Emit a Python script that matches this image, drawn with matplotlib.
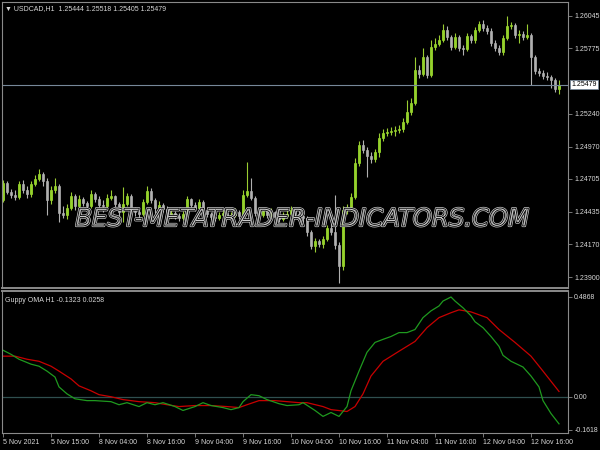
import numpy as np
import matplotlib
matplotlib.use("Agg")
import matplotlib.pyplot as plt
import matplotlib.patheffects as pe
import matplotlib.transforms as mtransforms

plt.rcParams['font.family'] = ['Liberation Sans', 'DejaVu Sans']

# USDCAD H1 candles, 5 Nov 2021 .. 12 Nov 2021
first_open = 1.24531
closes = [1.24671, 1.24597, 1.24572, 1.24556, 1.24663, 1.24613, 1.24581, 1.24663, 1.24704, 1.24745,
          1.24687, 1.24531, 1.24613, 1.24646, 1.24425, 1.24408, 1.24466, 1.24564, 1.24482, 1.24540,
          1.24507, 1.24482, 1.24581, 1.24540, 1.24490, 1.24482, 1.24548, 1.24564, 1.24499, 1.24433,
          1.24499, 1.24564, 1.24449, 1.24433, 1.24417, 1.24515, 1.24605, 1.24531, 1.24466, 1.24490,
          1.24458, 1.24417, 1.24425, 1.24400, 1.24384, 1.24417, 1.24540, 1.24490, 1.24466, 1.24515,
          1.24449, 1.24417, 1.24392, 1.24384, 1.24408, 1.24425, 1.24400, 1.24408, 1.24433, 1.24400,
          1.24572, 1.24605, 1.24548, 1.24425, 1.24408, 1.24441, 1.24408, 1.24433, 1.24392, 1.24376,
          1.24400, 1.24417, 1.24449, 1.24417, 1.24400, 1.24384, 1.24269, 1.24154, 1.24195, 1.24171,
          1.24212, 1.24302, 1.24269, 1.24162, 1.23990, 1.24449, 1.24474, 1.24556, 1.24835, 1.24983,
          1.24942, 1.24892, 1.24868, 1.24925, 1.25040, 1.25081, 1.25089, 1.25097, 1.25106, 1.25114,
          1.25171, 1.25253, 1.25327, 1.25598, 1.25565, 1.25704, 1.25557, 1.25787, 1.25811, 1.25844,
          1.25926, 1.25869, 1.25787, 1.25869, 1.25778, 1.25770, 1.25877, 1.25844, 1.25926, 1.25975,
          1.25942, 1.25918, 1.25819, 1.25778, 1.25745, 1.25860, 1.25959, 1.25967, 1.25885, 1.25893,
          1.25869, 1.25885, 1.25704, 1.25590, 1.25573, 1.25549, 1.25540, 1.25516, 1.25444, 1.25479]
highs = [1.24696, 1.24687, 1.24622, 1.24613, 1.24687, 1.24696, 1.24646, 1.24687, 1.24737, 1.24786,
         1.24761, 1.24712, 1.24646, 1.24712, 1.24663, 1.24482, 1.24499, 1.24597, 1.24581, 1.24572,
         1.24556, 1.24523, 1.24613, 1.24597, 1.24564, 1.24531, 1.24581, 1.24613, 1.24572, 1.24515,
         1.24638, 1.24589, 1.24581, 1.24474, 1.24466, 1.24540, 1.24646, 1.24630, 1.24548, 1.24523,
         1.24507, 1.24482, 1.24458, 1.24441, 1.24425, 1.24441, 1.24564, 1.24548, 1.24515, 1.24540,
         1.24531, 1.24474, 1.24433, 1.24417, 1.24433, 1.24449, 1.24441, 1.24433, 1.24466, 1.24449,
         1.24613, 1.24843, 1.24712, 1.24564, 1.24449, 1.24466, 1.24458, 1.24466, 1.24441, 1.24417,
         1.24433, 1.24449, 1.24482, 1.24466, 1.24441, 1.24425, 1.24400, 1.24285, 1.24220, 1.24212,
         1.24236, 1.24326, 1.24367, 1.24572, 1.24187, 1.24482, 1.24499, 1.24589, 1.24876, 1.25016,
         1.25024, 1.24966, 1.24925, 1.24950, 1.25081, 1.25114, 1.25122, 1.25130, 1.25139, 1.25147,
         1.25204, 1.25352, 1.25368, 1.25704, 1.25639, 1.25778, 1.25721, 1.25844, 1.25860, 1.25885,
         1.25975, 1.25959, 1.25885, 1.25901, 1.25885, 1.25803, 1.25901, 1.25893, 1.25951, 1.26000,
         1.26008, 1.25967, 1.25942, 1.25844, 1.25803, 1.25885, 1.26041, 1.25992, 1.25983, 1.25926,
         1.25918, 1.25975, 1.25901, 1.25721, 1.25614, 1.25598, 1.25581, 1.25557, 1.25532, 1.25518]
lows = [1.24515, 1.24581, 1.24548, 1.24531, 1.24540, 1.24589, 1.24548, 1.24556, 1.24646, 1.24687,
        1.24646, 1.24408, 1.24499, 1.24589, 1.24351, 1.24384, 1.24376, 1.24449, 1.24449, 1.24433,
        1.24482, 1.24449, 1.24466, 1.24515, 1.24449, 1.24433, 1.24458, 1.24531, 1.24466, 1.24400,
        1.24351, 1.24482, 1.24384, 1.24400, 1.24384, 1.24400, 1.24499, 1.24507, 1.24425, 1.24376,
        1.24433, 1.24392, 1.24384, 1.24376, 1.24359, 1.24367, 1.24400, 1.24466, 1.24441, 1.24441,
        1.24425, 1.24392, 1.24367, 1.24359, 1.24367, 1.24384, 1.24376, 1.24376, 1.24392, 1.24376,
        1.24384, 1.24556, 1.24531, 1.24400, 1.24384, 1.24392, 1.24384, 1.24392, 1.24367, 1.24351,
        1.24359, 1.24384, 1.24400, 1.24392, 1.24376, 1.24351, 1.24236, 1.24130, 1.24105, 1.24146,
        1.24138, 1.24195, 1.24244, 1.24130, 1.23851, 1.23957, 1.24417, 1.24441, 1.24540, 1.24810,
        1.24917, 1.24720, 1.24835, 1.24843, 1.24884, 1.25016, 1.25057, 1.25065, 1.25057, 1.25081,
        1.25089, 1.25155, 1.25229, 1.25311, 1.25532, 1.25549, 1.25532, 1.25540, 1.25762, 1.25795,
        1.25828, 1.25844, 1.25762, 1.25770, 1.25754, 1.25721, 1.25754, 1.25819, 1.25819, 1.25910,
        1.25918, 1.25893, 1.25795, 1.25754, 1.25721, 1.25721, 1.25844, 1.25934, 1.25860, 1.25819,
        1.25844, 1.25852, 1.25475, 1.25565, 1.25549, 1.25524, 1.25516, 1.25450, 1.25417, 1.25405]

# Guppy OMA values (bar index, value)
green_idx = [0, 2, 4, 7, 9, 11, 13, 14, 16, 18, 21, 23, 27, 29, 31, 34, 36, 38, 40, 43,
             45, 48, 50, 52, 55, 57, 59, 60, 62, 64, 66, 69, 71, 74, 75, 78, 80, 82, 84, 86,
             87, 89, 91, 93, 95, 97, 99, 101, 103, 105, 107, 109, 110, 112, 113, 115, 117, 118, 120, 122,
             124, 125, 127, 130, 132, 134, 135, 137, 139]
green_val = [0.227, 0.207, 0.183, 0.159, 0.149, 0.125, 0.096, 0.048, 0.014, -0.010,
             -0.019, -0.019, -0.024, -0.039, -0.029, -0.048, -0.029, -0.039, -0.029, -0.048,
             -0.067, -0.048, -0.029, -0.043, -0.053, -0.063, -0.053, -0.024, 0.010, 0.005,
             -0.014, -0.034, -0.043, -0.039, -0.029, -0.067, -0.096, -0.077, -0.096, -0.048,
             0.029, 0.125, 0.217, 0.265, 0.280, 0.294, 0.313, 0.313, 0.328, 0.386,
             0.419, 0.443, 0.467, 0.4868, 0.467, 0.434, 0.395, 0.366, 0.337, 0.294,
             0.246, 0.202, 0.173, 0.145, 0.101, 0.048, -0.019, -0.082, -0.1323]
red_idx = [0, 3, 6, 9, 12, 14, 17, 19, 22, 24, 27, 30, 34, 38, 41, 44, 48, 52, 56, 59,
           61, 64, 68, 71, 74, 76, 80, 82, 86, 88, 90, 92, 95, 99, 103, 106, 109, 112, 114, 117,
           121, 124, 128, 132, 135, 139]
red_val = [0.198, 0.198, 0.183, 0.173, 0.149, 0.125, 0.087, 0.053, 0.029, 0.010,
           0.000, -0.014, -0.024, -0.029, -0.039, -0.048, -0.043, -0.043, -0.048, -0.053,
           -0.039, -0.019, -0.019, -0.024, -0.029, -0.029, -0.048, -0.063, -0.072, -0.048,
           0.014, 0.101, 0.173, 0.222, 0.270, 0.337, 0.386, 0.410, 0.424, 0.414,
           0.386, 0.328, 0.265, 0.198, 0.125, 0.0258]

time_labels = ["5 Nov 2021", "5 Nov 15:00", "8 Nov 04:00", "8 Nov 16:00", "9 Nov 04:00",
               "9 Nov 16:00", "10 Nov 04:00", "10 Nov 16:00", "11 Nov 04:00", "11 Nov 16:00",
               "12 Nov 04:00", "12 Nov 16:00"]
price_ticks = [1.26045, 1.25775, 1.25240, 1.24970, 1.24705, 1.24435, 1.24170, 1.23900]
last_price = 1.25479
osc_ticks = [0.4868, 0.0, -0.1618]
osc_tick_labels = ["0.4868", "0.00", "-0.1618"]

txt = '#d8d8d8'
frame = '#8a8a8a'

fig = plt.figure(figsize=(6, 4.5), dpi=100, facecolor='black')
ax = fig.add_axes([2/600, 1-288/450, 566/600, 286/450], facecolor='black')
ax2 = fig.add_axes([2/600, 1-433/450, 566/600, 142/450], facecolor='black')

# candles
o = np.array([first_open] + closes[:-1])
c = np.array(closes)
h = np.array(highs)
l = np.array(lows)
x = np.arange(len(c))
bull = c >= o
body_col = np.where(bull, '#adff2f', '#c0c0c0')
wick_col = np.where(bull, '#9acd32', '#b0b0b0')
ax.vlines(x, l, h, colors=wick_col, linewidth=0.8)
ax.bar(x, c - o, bottom=o, width=0.72, color=body_col, edgecolor=body_col, linewidth=0.4)

ax.axhline(last_price, color='#778899', lw=0.8)
ax.set_xlim(-0.25, 141.25)
ax.set_ylim(1.23810, 1.26156)

ax.yaxis.tick_right()
ax.set_yticks(price_ticks)
ax.set_yticklabels(["%.5f" % p for p in price_ticks])
ax.tick_params(axis='y', colors=frame, labelcolor=txt, labelsize=5, length=3, width=0.6, pad=1.5)
ax.tick_params(axis='x', bottom=False, labelbottom=False)
for s in ax.spines.values():
    s.set_color(frame)
    s.set_linewidth(0.8)
ax.spines['bottom'].set_linewidth(1.4)

trans = mtransforms.blended_transform_factory(ax.transAxes, ax.transData)
ax.text(1.006, last_price, "%.5f" % last_price, transform=trans, ha='left', va='center',
        fontsize=5, color='black',
        bbox=dict(boxstyle='square,pad=0.18', fc='white', ec='#778899', lw=0.6))

ax.text(0.006, 0.988, u"\u25bc USDCAD,H1  1.25444 1.25518 1.25405 1.25479", transform=ax.transAxes,
        ha='left', va='top', fontsize=5, color=txt)

# oscillator
ax2.axhline(0.0, color='#2f4f4f', lw=0.9)
ax2.plot(red_idx, red_val, color='#c80000', lw=0.9)
ax2.plot(green_idx, green_val, color='#1f9a1f', lw=0.9)
ax2.set_xlim(-0.25, 141.25)
ax2.set_ylim(-0.177, 0.516)
ax2.yaxis.tick_right()
ax2.set_yticks(osc_ticks)
ax2.set_yticklabels(osc_tick_labels)
ax2.set_xticks(np.arange(len(time_labels)) * 12)
ax2.set_xticklabels(time_labels, ha='left')
ax2.tick_params(axis='both', colors=frame, labelcolor=txt, labelsize=5, length=3, width=0.6, pad=1.5)
for s in ax2.spines.values():
    s.set_color(frame)
    s.set_linewidth(0.8)
ax2.spines['top'].set_linewidth(1.4)
ax2.text(0.006, 0.96, "Guppy OMA H1 -0.1323 0.0258", transform=ax2.transAxes,
         ha='left', va='top', fontsize=5, color=txt)

# watermark
fig.text(0.503, 1-219/450, "BEST-METATRADER-INDICATORS.COM", ha='center', va='center',
         fontsize=17.5, style='italic', family='DejaVu Sans', color=(0, 0, 0, 0),
         path_effects=[pe.Stroke(linewidth=1.6, foreground='#cccccc'),
                       pe.Stroke(linewidth=0.6, foreground='black')])

fig.savefig('out.png', dpi=100, facecolor='black')
